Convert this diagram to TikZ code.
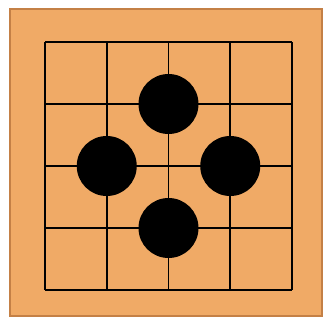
\documentclass[tikz,border=0pt]{standalone}
\usepackage{tikz}

\definecolor{boardwood}{RGB}{240,170,102}
\definecolor{boardedge}{RGB}{196,128,70}

\begin{document}
\begin{tikzpicture}[
  x=1pt, y=-1pt,
  board/.style = {fill=boardwood, draw=boardedge, line width=1.2pt},
  gridline/.style = {draw=black, line width=1.6pt},
  stone/.style = {circle, fill=black, inner sep=0pt, minimum size=60pt},
]
  \useasboundingbox (0,0) rectangle (327,322);
  \fill[white] (0,0) rectangle (327,322);
  \path[board] (10,9) rectangle (322,316);

  % grid, 4 x 4 cells
  \foreach \k in {0,...,4} {
    \draw[gridline] (45+61.75*\k,42) -- (45+61.75*\k,290);
    \draw[gridline] (45,42+62*\k) -- (292,42+62*\k);
  }

  \node[stone] (top)    at (168.5,104) {};
  \node[stone] (left)   at (106.75,166) {};
  \node[stone] (right)  at (230.25,166) {};
  \node[stone] (bottom) at (168.5,228) {};
\end{tikzpicture}
\end{document}
